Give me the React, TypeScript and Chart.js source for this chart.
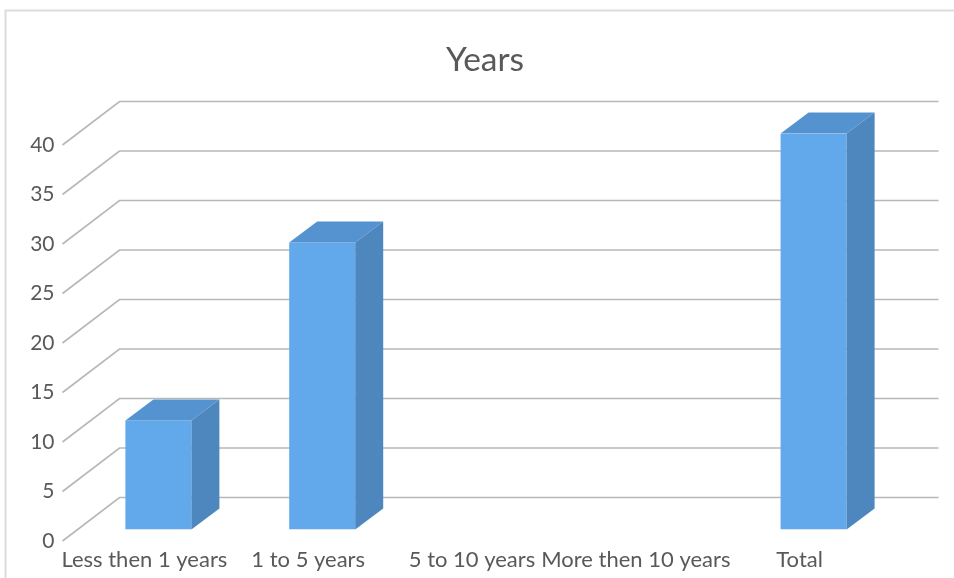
import React, { useEffect, useRef } from "react";
import { Chart, registerables } from "chart.js";

Chart.register(...registerables);

const chartTitle = "Years";
const categories = ["Less then 1 years", "1 to 5 years", "5 to 10 years", "More then 10 years", "Total"];
const yearsValues = [11, 29, null, null, 40];

const FONT = "Lato, Carlito, sans-serif";
const TEXT = "#595959";
const GRID = "#b8b8b8";
const WALL_DX = 57;
const WALL_DY = 43.5;
const BAR_DX = 14;
const BAR_DY = 11.5;
const DEPTH_DX = 28;
const DEPTH_DY = 21;

const scene3d = {
  id: "scene3d",
  afterLayout(chart: any) {
    const t = chart.titleBlock;
    if (t) {
      t.left = 425;
      t.right = 545;
    }
  },
  beforeDatasetsDraw(chart: any) {
    const { ctx, scales, chartArea, width, height } = chart;
    const y = scales.y;
    ctx.save();
    ctx.strokeStyle = "#dcdcdc";
    ctx.lineWidth = 2;
    ctx.beginPath();
    ctx.moveTo(5.5, height);
    ctx.lineTo(5.5, 10.5);
    ctx.lineTo(width, 10.5);
    ctx.stroke();
    ctx.strokeStyle = GRID;
    ctx.lineWidth = 1.7;
    y.ticks.forEach((t: any) => {
      const py = y.getPixelForValue(t.value);
      ctx.beginPath();
      ctx.moveTo(chartArea.left, py);
      ctx.lineTo(chartArea.left + WALL_DX, py - WALL_DY);
      ctx.lineTo(chartArea.right + WALL_DX, py - WALL_DY);
      ctx.stroke();
    });
    ctx.restore();
    ctx.save();
    ctx.translate(BAR_DX, -BAR_DY);
  },
  afterDatasetsDraw(chart: any) {
    const { ctx } = chart;
    ctx.restore();
    const meta = chart.getDatasetMeta(0);
    ctx.save();
    meta.data.forEach((bar: any, i: number) => {
      if (yearsValues[i] == null) return;
      const p = bar.getProps(["x", "y", "base", "width"], true);
      const l = p.x - p.width / 2 + BAR_DX;
      const r = p.x + p.width / 2 + BAR_DX;
      const top = p.y - BAR_DY;
      const bot = p.base - BAR_DY;
      ctx.fillStyle = "#5593d0";
      ctx.beginPath();
      ctx.moveTo(l, top);
      ctx.lineTo(l + DEPTH_DX, top - DEPTH_DY);
      ctx.lineTo(r + DEPTH_DX, top - DEPTH_DY);
      ctx.lineTo(r, top);
      ctx.closePath();
      ctx.fill();
      ctx.fillStyle = "#4e87bd";
      ctx.beginPath();
      ctx.moveTo(r, top);
      ctx.lineTo(r + DEPTH_DX, top - DEPTH_DY);
      ctx.lineTo(r + DEPTH_DX, bot - DEPTH_DY);
      ctx.lineTo(r, bot);
      ctx.closePath();
      ctx.fill();
    });
    ctx.restore();
  },
};

export default function App() {
  const ref = useRef<HTMLCanvasElement | null>(null);
  useEffect(() => {
    const chart = new Chart(ref.current as HTMLCanvasElement, {
      type: "bar",
      data: {
        labels: categories,
        datasets: [
          {
            label: chartTitle,
            data: yearsValues,
            backgroundColor: "#61a9eb",
            borderWidth: 0,
            categoryPercentage: 1,
            barPercentage: 0.403,
          },
        ],
      },
      plugins: [scene3d],
      options: {
        responsive: false,
        animation: false,
        layout: { padding: { left: 0, right: 72.5, top: 0, bottom: 0 } },
        plugins: {
          legend: { display: false },
          tooltip: { enabled: false },
          title: {
            display: true,
            text: chartTitle,
            color: TEXT,
            font: { family: FONT, size: 33.5, weight: "normal" },
            padding: { top: 40.5, bottom: 64.3 },
          },
        },
        scales: {
          x: {
            afterFit: (s: any) => {
              s.height = 37;
            },
            grid: { display: false, drawTicks: false },
            border: { display: false },
            ticks: {
              autoSkip: false,
              maxRotation: 0,
              minRotation: 0,
              padding: 6,
              color: TEXT,
              font: { family: FONT, size: 22 },
            },
          },
          y: {
            min: 0,
            max: 40,
            afterFit: (s: any) => {
              s.width = 62.5;
            },
            grid: { display: false, drawTicks: false },
            border: { display: false },
            ticks: {
              stepSize: 5,
              padding: 8,
              color: TEXT,
              font: { family: FONT, size: 21 },
            },
          },
        },
      },
    } as any);
    return () => chart.destroy();
  }, []);
  return (
    <div style={{ position: "absolute", left: 0, top: 0, width: 954, height: 578 }}>
      <canvas ref={ref} width={954} height={578} style={{ display: "block" }} />
    </div>
  );
}
